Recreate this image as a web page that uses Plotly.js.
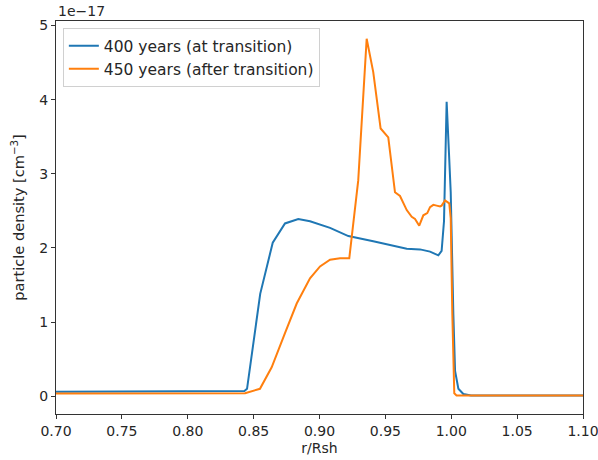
<!DOCTYPE html>
<html>
<head>
<meta charset="utf-8">
<script src="https://cdn.plot.ly/plotly-3.0.1.min.js"></script>
<style>html,body{margin:0;padding:0;background:#fff;}#chart{width:598px;height:460px;}</style>
</head>
<body>
<div id="chart"></div>
<script>
// values in units of 1e-17 cm^-3
const r400 = [0.70, 0.80, 0.843, 0.845, 0.850, 0.855, 0.8645, 0.8738, 0.8839, 0.8928, 0.908, 0.9219, 0.9408, 0.951, 0.9662, 0.9763, 0.9839, 0.9902, 0.9927, 0.9945, 0.9965, 0.9983, 0.9996, 1.0016, 1.0029, 1.0054, 1.0092, 1.015, 1.05, 1.10];
const d400 = [0.06, 0.065, 0.07, 0.10, 0.75, 1.38, 2.07, 2.33, 2.39, 2.36, 2.27, 2.16, 2.09, 2.05, 1.99, 1.98, 1.95, 1.90, 1.96, 2.36, 3.97, 3.27, 2.75, 1.10, 0.34, 0.10, 0.03, 0.01, 0.01, 0.01];
const r450 = [0.70, 0.80, 0.8435, 0.8548, 0.8637, 0.8738, 0.8827, 0.8928, 0.9004, 0.908, 0.9156, 0.9226, 0.9294, 0.9358, 0.9408, 0.9464, 0.9522, 0.9573, 0.9611, 0.9662, 0.97, 0.9725, 0.9757, 0.9788, 0.9818, 0.9839, 0.9864, 0.9889, 0.9915, 0.9927, 0.9953, 0.9985, 0.9996, 1.0008, 1.0023, 1.004, 1.05, 1.10];
const d450 = [0.035, 0.035, 0.04, 0.10, 0.39, 0.85, 1.25, 1.59, 1.75, 1.84, 1.86, 1.86, 2.91, 4.82, 4.37, 3.61, 3.49, 2.75, 2.70, 2.51, 2.42, 2.39, 2.30, 2.44, 2.47, 2.55, 2.58, 2.57, 2.56, 2.57, 2.64, 2.60, 2.40, 1.12, 0.04, 0.01, 0.01, 0.01];
const names = ["400 years (at transition)", "450 years (after transition)"];
const xTicks = [0.70, 0.75, 0.80, 0.85, 0.90, 0.95, 1.00, 1.05, 1.10];
const yTicks = [0, 1, 2, 3, 4, 5];

const font = {family: "DejaVu Sans, sans-serif", size: 14, color: "#262626"};
const traces = [
  {x: r400, y: d400, name: names[0], mode: "lines", line: {color: "#1f77b4", width: 2}},
  {x: r450, y: d450, name: names[1], mode: "lines", line: {color: "#ff7f0e", width: 2}}
];
const axisBase = {
  showgrid: false, zeroline: false, showline: true, mirror: true,
  linecolor: "#333", linewidth: 1, ticks: "outside", ticklen: 4, tickwidth: 1,
  tickcolor: "#333", tickfont: font, ticklabeloverflow: "allow"
};
const layout = {
  width: 598, height: 460,
  margin: {l: 56, r: 15, t: 21, b: 46},
  paper_bgcolor: "#fff", plot_bgcolor: "#fff",
  font: font,
  showlegend: true,
  legend: {x: 0.013, y: 0.982, xanchor: "left", yanchor: "top",
    bgcolor: "rgba(255,255,255,0.8)", bordercolor: "#d0d0d0", borderwidth: 1,
    font: {family: font.family, size: 15.5, color: font.color}, tracegroupgap: 2},
  xaxis: Object.assign({}, axisBase, {range: [0.70, 1.10], tickvals: xTicks,
    ticktext: xTicks.map(v => v.toFixed(2)),
    title: {text: "r/Rsh", font: font, standoff: 5}}),
  yaxis: Object.assign({}, axisBase, {range: [-0.24, 5.06], tickvals: yTicks,
    ticktext: yTicks.map(String),
    title: {text: "particle density [cm<sup>\u22123</sup>]",
      font: {family: font.family, size: 14.6, color: font.color}, standoff: 11}}),
  annotations: [{text: "1e\u221217", xref: "paper", yref: "paper", x: 0, y: 1,
    xanchor: "left", yanchor: "bottom", yshift: 0, showarrow: false, font: font}]
};
Plotly.newPlot("chart", traces, layout, {displayModeBar: false, staticPlot: true});
</script>
</body>
</html>
